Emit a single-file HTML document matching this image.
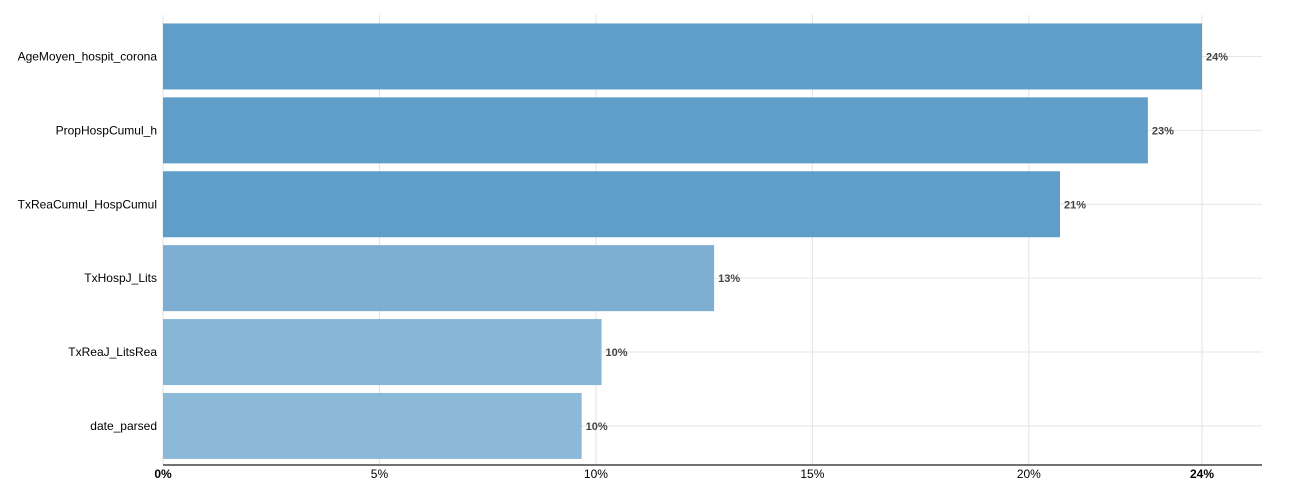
<!DOCTYPE html>
<html><head><meta charset="utf-8"><style>
html,body{margin:0;padding:0;background:#fff;}
svg{display:block;font-family:"Liberation Sans",Arial,sans-serif;}
</style></head><body>
<svg id="chart" width="1296" height="501" viewBox="0 0 1296 501"></svg>
<script>
const categories = ["AgeMoyen_hospit_corona","PropHospCumul_h","TxReaCumul_HospCumul","TxHospJ_Lits","TxReaJ_LitsRea","date_parsed"];
const values = [24.0, 22.75, 20.72, 12.73, 10.13, 9.67];
const labels = ["24%","23%","21%","13%","10%","10%"];
const tickValues = [0,5,10,15,20,24];
const tickLabels = ["0%","5%","10%","15%","20%","24%"];
const colors = ["#5699c6","#5699c6","#5699c6","#77aad0","#82b2d5","#87b5d7"];

const NS="http://www.w3.org/2000/svg";
const svgEl=document.getElementById('chart');
const x0=163, x1=1202, xMax=24, yTop=15, yBottom=465, rowTop=19.5, pitch=73.9, barH=66;
const xs=v=>x0+(x1-x0)*v/xMax;
const yc=i=>rowTop+pitch*i+pitch/2;
function mk(t,a){const e=document.createElementNS(NS,t);for(const k in a)e.setAttribute(k,a[k]);svgEl.appendChild(e);return e;}

tickValues.forEach((v,i)=>{
  const g=mk('line',{x1:xs(v),x2:xs(v),y1:yTop,y2:yBottom,stroke:'#e3e3e3','stroke-width':1});
  
  
  const t=mk('text',{x:xs(v),y:478,'text-anchor':'middle','font-size':12,fill:'#000','font-weight':(i==0||i==tickValues.length-1)?'bold':'normal'});
  t.textContent=tickLabels[i];
  
  
});
categories.forEach((c,i)=>{
  const g=mk('line',{x1:x0,x2:1262,y1:yc(i),y2:yc(i),stroke:'#e6e6e6','stroke-width':1});
  
  
});
categories.forEach((c,i)=>{
  const r=mk('rect',{x:x0,y:yc(i)-barH/2,width:xs(values[i])-x0,height:barH,fill:colors[i],'fill-opacity':0.95});
  
  
  const l=mk('text',{x:x0-6,y:yc(i)+4,'text-anchor':'end','font-size':12,fill:'#000'});
  l.textContent=c;
  
  
  const v=mk('text',{x:xs(values[i])+4,y:yc(i)+4,'font-size':11,'font-weight':'bold',fill:'#444'});
  v.textContent=labels[i];
  
  
});
const ax=mk('line',{x1:x0,x2:1262,y1:yBottom,y2:yBottom,stroke:'#444','stroke-width':1.5});


</script>
</body></html>
